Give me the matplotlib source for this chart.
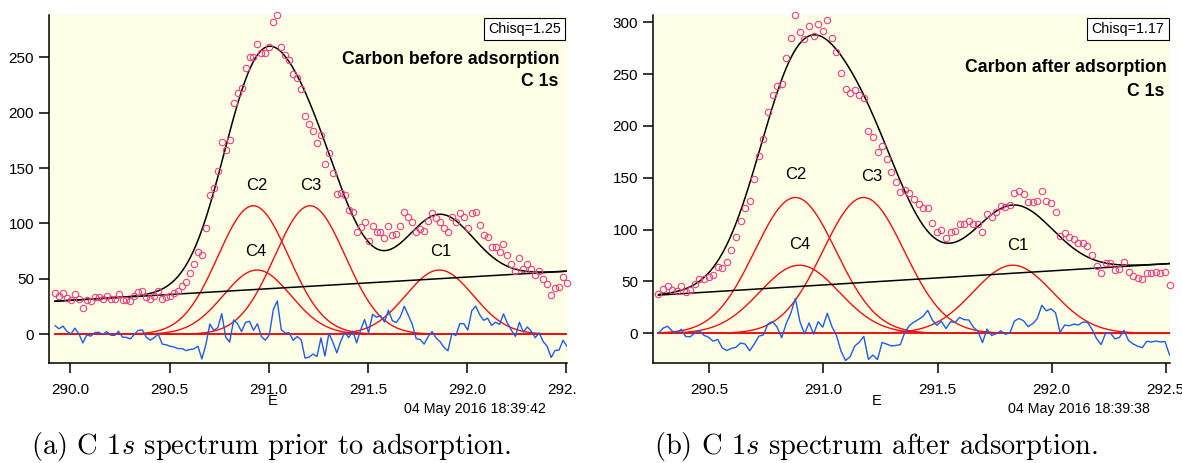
import numpy as np
import matplotlib
matplotlib.use("Agg")
import matplotlib.pyplot as plt
from matplotlib.transforms import Bbox, TransformedBbox, IdentityTransform

plt.rcParams['font.family'] = ['Liberation Sans', 'DejaVu Sans']
plt.rcParams['mathtext.fontset'] = 'cm'

# ---- C 1s before adsorption: energy grid start/step and raw counts
e0_before, de_before = 289.923, 0.02
counts_before = [
    37.6, 35.0, 37.6, 33.0, 31.0, 36.4, 31.6, 23.5, 31.0, 30.0,
    33.4, 34.0, 32.0, 35.0, 32.0, 32.0, 36.0, 31.0, 31.0, 30.0,
    34.6, 38.5, 39.4, 33.4, 31.6, 35.0, 39.4, 32.0, 33.4, 34.6,
    37.0, 39.4, 44.0, 47.6, 55.0, 63.0, 74.0, 72.0, 95.6, 125.7,
    132.3, 147.7, 173.9, 166.3, 175.4, 208.5, 217.5, 222.0, 240.7, 250.6,
    250.0, 261.7, 254.2, 253.6, 259.6, 281.9, 287.9, 259.0, 251.8, 247.3,
    234.6, 231.6, 221.7, 197.3, 189.8, 183.8, 172.4, 179.6, 153.4, 164.0,
    145.9, 126.3, 127.2, 125.7, 112.2, 110.0, 92.0, 97.1, 101.0, 84.5,
    97.7, 92.6, 92.6, 86.6, 97.7, 89.6, 90.2, 98.0, 110.7, 106.2,
    101.7, 92.0, 94.7, 93.5, 102.6, 109.2, 104.7, 101.7, 96.2, 92.0,
    105.6, 101.4, 109.2, 105.6, 96.2, 109.7, 110.0, 98.3, 89.6, 88.1,
    78.5, 78.5, 74.0, 81.5, 71.2, 63.4, 56.8, 68.8, 59.2, 63.4,
    59.2, 53.2, 57.4, 49.6, 45.4, 35.4, 41.8, 42.4, 51.4, 46.0,
]
# fitted peaks C1..C4: centre (eV), height, FWHM (eV)
peaks_before = {
    'C1': (291.860, 58.0, 0.40),
    'C2': (290.922, 116.0, 0.42),
    'C3': (291.208, 116.0, 0.42),
    'C4': (290.941, 58.0, 0.40),
}
bg_e_before = [289.92, 292.50]
bg_y_before = [29.8, 56.9]

# ---- C 1s after adsorption
e0_after, de_after = 290.277, 0.02
counts_after = [
    37.8, 42.9, 45.5, 41.7, 41.0, 45.5, 40.0, 41.7, 48.0, 52.6,
    52.0, 54.5, 56.0, 64.0, 63.0, 69.0, 80.8, 92.6, 108.7, 120.6,
    128.0, 148.9, 171.4, 187.8, 213.2, 229.9, 238.2, 240.5, 265.3, 284.9,
    307.1, 291.0, 283.6, 296.8, 287.1, 298.7, 291.6, 301.9, 285.2, 271.7,
    250.8, 235.3, 231.8, 234.4, 229.9, 226.7, 195.2, 189.6, 175.0, 180.9,
    168.6, 156.0, 145.7, 136.0, 138.0, 135.0, 129.6, 124.4, 120.6, 120.6,
    106.7, 98.1, 99.7, 91.6, 98.1, 98.4, 105.1, 105.5, 108.4, 105.1,
    105.1, 98.1, 115.1, 112.5, 117.4, 122.8, 121.5, 123.8, 135.7, 137.6,
    134.1, 126.4, 126.4, 128.0, 137.0, 127.6, 125.4, 117.3, 93.9, 97.1,
    92.6, 90.7, 86.8, 86.8, 84.2, 75.5, 64.9, 57.9, 68.2, 67.5,
    61.1, 62.1, 68.8, 58.8, 55.6, 53.4, 52.1, 58.5, 57.9, 59.1,
    58.5, 59.1, 46.3,
]
peaks_after = {
    'C1': (291.830, 65.7, 0.41),
    'C2': (290.877, 131.0, 0.42),
    'C3': (291.176, 131.0, 0.42),
    'C4': (290.895, 65.7, 0.41),
}
bg_e_after = [290.28, 292.52]
bg_y_after = [36.9, 67.3]

chisq = ['Chisq=1.25', 'Chisq=1.17']
titles = ['Carbon before adsorption', 'Carbon after adsorption']
stamps = ['04 May 2016 18:39:42', '04 May 2016 18:39:38']
captions = ['(a) C 1$s$ spectrum prior to adsorption.',
            '(b) C 1$s$ spectrum after adsorption.']

PINK = '#EE3F80'
RED = '#EE1010'
BLUE = '#1D5BEA'
BG = '#FFFFE6'
W, H = 1182, 463


def gauss(x, c, h, fwhm):
    s = fwhm / (2 * np.sqrt(2 * np.log(2)))
    return h * np.exp(-(x - c) ** 2 / (2 * s ** 2))


def background(x, bg_e, bg_y):
    slope = (bg_y[1] - bg_y[0]) / (bg_e[1] - bg_e[0])
    return bg_y[0] + slope * (x - bg_e[0])


def fit_model(x, peaks, bg_e, bg_y):
    y = background(x, bg_e, bg_y)
    for c, h, f in peaks.values():
        y = y + gauss(x, c, h, f)
    return y


def px(x, y):
    return x / W, 1 - y / H


def draw_panel(ax, e0, de, counts, peaks, bg_e, bg_y):
    counts = np.array(counts)
    e = e0 + de * np.arange(len(counts))
    fine = np.linspace(e[0], e[-1], 800)

    for c, h, f in peaks.values():
        ax.plot(fine, gauss(fine, c, h, f), color=RED, lw=1.0, zorder=2)
    ax.plot([e[0], e[-1]], [0, 0], color=RED, lw=1.3, zorder=2)
    ax.plot(fine, background(fine, bg_e, bg_y), color='black', lw=1.1, zorder=3)
    ax.plot(fine, fit_model(fine, peaks, bg_e, bg_y), color='black', lw=1.1, zorder=3)
    resid = counts - fit_model(e, peaks, bg_e, bg_y)
    ax.plot(e, resid, color=BLUE, lw=1.0, zorder=4)
    ax.plot(e, counts, 'o', mfc='none', mec=PINK, ms=4.6, mew=0.8,
            zorder=5, clip_on=False)

    ax.set_facecolor(BG)
    for side in ('top', 'right'):
        ax.spines[side].set_visible(False)
    for side in ('left', 'bottom'):
        ax.spines[side].set_linewidth(1.1)
    ax.tick_params(direction='out', length=7, width=1.1, labelsize=11, pad=4)
    ax.tick_params(axis='x', pad=7)
    ax.xaxis.set_major_formatter(matplotlib.ticker.FormatStrFormatter('%.1f'))


fig = plt.figure(figsize=(W / 100, H / 100), dpi=100)
ax_a = fig.add_axes([0.04171, 0.21533, 0.43815, 0.75227])
ax_b = fig.add_axes([0.55279, 0.21533, 0.43731, 0.75227])

draw_panel(ax_a, e0_before, de_before, counts_before, peaks_before, bg_e_before, bg_y_before)
draw_panel(ax_b, e0_after, de_after, counts_after, peaks_after, bg_e_after, bg_y_after)

ax_a.set_xlim(289.894, 292.504)
ax_a.set_ylim(-26.2, 288.2)
ax_a.set_xticks([290.0, 290.5, 291.0, 291.5, 292.0, 292.5])
ax_a.set_yticks([0, 50, 100, 150, 200, 250])

ax_b.set_xlim(290.255, 292.520)
ax_b.set_ylim(-28.9, 307.0)
ax_b.set_xticks([290.5, 291.0, 291.5, 292.0, 292.5])
ax_b.set_yticks([0, 50, 100, 150, 200, 250, 300])

# the last tick label of panel (a) is cut at the panel edge
clip = TransformedBbox(Bbox.from_extents(0, 0, 576, H), IdentityTransform())
for lab in ax_a.get_xticklabels():
    lab.set_clip_box(clip)
    lab.set_clip_on(True)

# peak names
for ax, pos in ((ax_a, {'C2': (290.942, 134.7), 'C3': (291.214, 134.7),
                        'C4': (290.935, 74.5), 'C1': (291.868, 74.5)}),
                (ax_b, {'C2': (290.877, 152.7), 'C3': (291.211, 151.7),
                        'C4': (290.895, 85.2), 'C1': (291.850, 84.7)})):
    for name, (x, y) in pos.items():
        ax.text(x, y, name, fontsize=12, ha='center', va='center', zorder=6)

# chisq boxes, titles, axis label and time stamps
box = dict(boxstyle='square,pad=0.3', fc='white', ec='black', lw=0.8)
fig.text(*px(524.5, 29), chisq[0], fontsize=10.3, ha='center', va='center', bbox=box)
fig.text(*px(1128, 29), chisq[1], fontsize=10.3, ha='center', va='center', bbox=box)

fig.text(*px(559.7, 60), titles[0], fontsize=12.7, weight='bold', ha='right', va='center')
fig.text(*px(558.5, 82), 'C 1s', fontsize=12.7, weight='bold', ha='right', va='center')
fig.text(*px(1167, 68), titles[1], fontsize=12.7, weight='bold', ha='right', va='center')
fig.text(*px(1164, 92), 'C 1s', fontsize=12.7, weight='bold', ha='right', va='center')

fig.text(*px(272.7, 401), 'E', fontsize=10.5, ha='center', va='center')
fig.text(*px(877, 401), 'E', fontsize=10.5, ha='center', va='center')
fig.text(*px(545.7, 408.5), stamps[0], fontsize=10.3, ha='right', va='center')
fig.text(*px(1150, 409), stamps[1], fontsize=10.3, ha='right', va='center')

fig.text(*px(30.7, 446.7), captions[0], family='cmr10', fontsize=20.5, ha='left', va='center')
fig.text(*px(654, 446.7), captions[1], family='cmr10', fontsize=20.5, ha='left', va='center')

fig.savefig('out.png', dpi=100, facecolor='white')
